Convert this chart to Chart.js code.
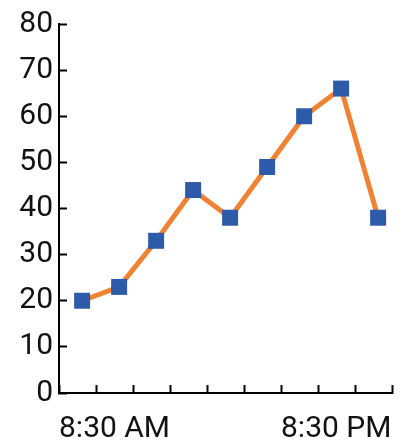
<!DOCTYPE html>
<html>
<head>
<meta charset="utf-8">
<script src="https://cdn.jsdelivr.net/npm/chart.js@4.4.1/dist/chart.umd.min.js"></script>
<style>
  html, body { margin: 0; padding: 0; background: #fff; }
  #wrap { width: 399px; height: 444px; }
</style>
</head>
<body>
<div id="wrap"><canvas id="chart" width="399" height="444"></canvas></div>
<script>
// Readings: hours elapsed since 8:30 AM and the measured value at each
const hoursSinceStart = [1.25, 3.25, 5.25, 7.25, 9.25, 11.25, 13.25, 15.25, 17.25];
const readings = [20, 23, 33, 44, 38, 49, 60, 66, 38];

// Labelled positions on the time axis
const labelHours = [0, 12];
const labelTexts = ['8:30 AM', '8:30 PM'];

// y axis ticks
const yTicks = [0, 10, 20, 30, 40, 50, 60, 70, 80];

const points = hoursSinceStart.map((h, i) => ({ x: h, y: readings[i] }));

const FONT = { family: 'Roboto', size: 30 };
const INK = '#111';

// Axes keep a fixed footprint; label overflow is handled by the layout padding
function fixBox(size, key) {
  return (s) => {
    s[key] = size;
    s.paddingTop = 0; s.paddingBottom = 0; s.paddingLeft = 0; s.paddingRight = 0;
  };
}

new Chart(document.getElementById('chart'), {
  type: 'line',
  data: {
    datasets: [{
      data: points,
      borderColor: '#F08233',
      borderWidth: 5,
      tension: 0,
      pointStyle: 'rect',
      pointRadius: 11.3,
      pointHoverRadius: 11.3,
      pointBackgroundColor: '#2D5BA9',
      pointBorderWidth: 0
    }]
  },
  options: {
    responsive: false,
    devicePixelRatio: 1,
    animation: false,
    events: [],
    layout: { autoPadding: false, padding: { top: 24, right: 7, bottom: 0, left: 0 } },
    plugins: { legend: { display: false }, tooltip: { enabled: false } },
    scales: {
      x: {
        type: 'linear',
        min: 0,
        max: 18,
        border: { display: true, color: '#000', width: 2 },
        grid: { drawOnChartArea: false, drawTicks: true, tickLength: -8, tickWidth: 2, tickColor: '#000' },
        ticks: {
          stepSize: 2,
          autoSkip: false,
          maxRotation: 0,
          align: 'start',
          padding: 26,
          color: INK,
          font: FONT,
          callback: (v) => {
            const k = labelHours.indexOf(v);
            return k >= 0 ? labelTexts[k] : '';
          }
        },
        afterFit: fixBox(51, 'height')
      },
      y: {
        min: 0,
        max: 80,
        border: { display: true, color: '#000', width: 2 },
        grid: { drawOnChartArea: false, drawTicks: true, tickLength: -8, tickWidth: 2, tickColor: '#000' },
        afterBuildTicks: (s) => { s.ticks = yTicks.map(v => ({ value: v })); },
        ticks: {
          padding: 14,
          color: INK,
          font: FONT
        },
        afterFit: fixBox(59, 'width')
      }
    }
  }
});
</script>
</body>
</html>
